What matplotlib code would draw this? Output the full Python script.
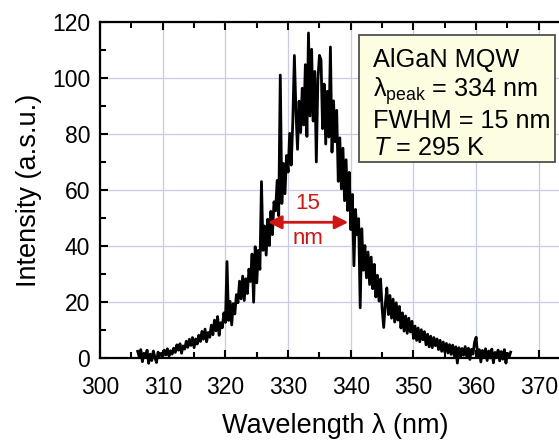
import matplotlib
matplotlib.use('Agg')
import matplotlib.pyplot as plt
import numpy as np
from matplotlib.patches import Rectangle
from matplotlib.ticker import MultipleLocator

plt.rcParams['font.family'] = ['Liberation Sans', 'DejaVu Sans']
plt.rcParams['mathtext.fontset'] = 'custom'
plt.rcParams['mathtext.rm'] = 'Liberation Sans'
plt.rcParams['mathtext.it'] = 'Liberation Sans:italic'

# spectrometer grid (nm), 0.25 nm steps
wl_start, wl_stop, wl_step = 306.0, 365.5, 0.25

# intensity, 8 samples per 2 nm
intensity = [
    2.5, 0.5, 3.1, -1.2, 1.8, 0.2, 2.9, -1.8,      # 306
    1.5, -0.8, 2.6, 0.4, -1.5, 2.2, 0.9, 1.8,      # 308
    0.6, 2.9, 1.2, 3.4, 0.8, 2.7, 1.5, 3.6,        # 310
    2.1, 4.8, 2.9, 5.2, 1.8, 4.4, 3.3, 6.1,        # 312
    3.9, 6.8, 4.6, 7.4, 3.8, 6.9, 5.1, 8.2,        # 314
    6.0, 9.6, 6.8, 10.4, 5.9, 9.2, 7.5, 11.8,      # 316
    8.4, 13.6, 9.8, 14.9, 8.2, 12.7, 10.9, 16.2,   # 318
    12.8, 34.5, 13.5, 20.3, 11.9, 19.5, 15.8, 22.7,  # 320
    19.8, 27.5, 21.2, 29.3, 20.6, 28.4, 23.1, 31.8,  # 322
    27.4, 37.2, 20.0, 39.8, 26.9, 38.5, 31.7, 63.0,  # 324
    38.5, 47.2, 36.8, 49.6, 40.2, 52.4, 44.1, 55.8,  # 326
    52.6, 63.4, 50.8, 101.0, 55.2, 69.5, 58.7, 72.3,  # 328
    66.4, 80.2, 68.9, 84.6, 108.0, 88.1, 74.5, 91.7,  # 330
    80.5, 96.3, 83.2, 104.7, 79.1, 116.0, 86.4, 110.2,  # 332
    84.6, 102.3, 70.0, 99.5, 108.0, 106.4, 81.9, 97.8,  # 334
    76.4, 95.2, 78.9, 111.0, 73.5, 91.8, 77.2, 88.4,  # 336
    63.1, 78.6, 60.4, 74.9, 56.2, 70.8, 52.7, 66.3,  # 338
    45.9, 58.4, 33.0, 53.1, 44.0, 49.8, 18.0, 46.2,  # 340
    31.4, 40.2, 28.7, 37.9, 26.3, 36.1, 24.8, 33.5,  # 342
    21.9, 29.6, 20.4, 28.3, 17.8, 11.0, 19.2, 25.1,  # 344
    15.6, 22.4, 14.3, 21.1, 12.9, 19.8, 13.6, 18.5,  # 346
    10.8, 16.2, 9.7, 15.1, 8.9, 14.3, 9.4, 13.2,     # 348
    7.1, 11.5, 6.4, 10.8, 5.9, 10.2, 6.6, 9.5,       # 350
    4.8, 8.6, 4.1, 7.9, 3.8, 7.4, 4.5, 6.9,          # 352
    3.1, 6.4, 2.5, 5.8, 2.2, 5.3, 1.9, 4.9,          # 354
    1.4, 4.7, 0.9, 4.1, -1.7, 3.8, 0.3, 3.5,         # 356
    1.1, 4.2, 0.6, 3.6, -0.4, 3.2, 1.5, 5.8,         # 358
    7.5, 0.4, 3.1, -1.3, 2.8, 0.2, 3.4, -0.8,        # 360
    2.6, 0.1, 3.3, -1.6, 2.1, 0.5, 2.9, -0.9,        # 362
    2.4, -0.3, 3.1, -1.7, 1.8, 0.4, 2.2,             # 364
]
wavelength = np.arange(wl_start, wl_stop + wl_step / 2, wl_step)

# FWHM marker
fwhm_left, fwhm_right, fwhm_level = 326.8, 339.6, 48.5
red = '#d01515'

info_lines = ['AlGaN MQW',
              r'λ$_{\mathrm{peak}}$ = 334 nm',
              'FWHM = 15 nm',
              r'$\mathit{T}$ = 295 K']

fig = plt.figure(figsize=(5.59, 4.44), dpi=100)
ax = fig.add_axes([0.179, 0.193, 0.841, 0.758])

ax.plot(wavelength, intensity, color='black', lw=2.0, clip_on=False, zorder=3)

ax.set_xlim(300, 375)
ax.set_ylim(0, 120)
ax.xaxis.set_minor_locator(MultipleLocator(5))
ax.yaxis.set_major_locator(MultipleLocator(20))
ax.yaxis.set_minor_locator(MultipleLocator(10))
ax.set_xticks(np.arange(300, 371, 10))
ax.grid(True, which='major', color='#c9c9ea', lw=0.9)
ax.set_axisbelow(True)

ax.tick_params(which='both', direction='in', top=True, right=False,
               labelsize=16.5, width=1.5)
ax.tick_params(axis='x', which='major', pad=13)
ax.tick_params(axis='y', which='major', pad=7)
ax.tick_params(which='major', length=6)
ax.tick_params(which='minor', length=4)
for s in ax.spines.values():
    s.set_linewidth(1.6)

ax.set_xlabel('Wavelength λ (nm)', fontsize=19.5, labelpad=10)
ax.set_ylabel('Intensity (a.s.u.)', fontsize=19.5, labelpad=7)

ax.annotate('', xy=(fwhm_left, fwhm_level), xytext=(fwhm_right, fwhm_level),
            arrowprops=dict(arrowstyle='<|-|>', color=red, lw=2,
                            mutation_scale=20, shrinkA=0, shrinkB=0),
            zorder=4)
ax.text((fwhm_left + fwhm_right) / 2, fwhm_level + 3, '15', color=red,
        fontsize=16, ha='center', va='bottom', zorder=4)
ax.text((fwhm_left + fwhm_right) / 2, fwhm_level - 2, 'nm', color=red,
        fontsize=16, ha='center', va='top', zorder=4)

ax.add_patch(Rectangle((0.551, 0.583), 0.417, 0.378, transform=ax.transAxes,
                       facecolor='#fdfde2', edgecolor='#505050', lw=1.3, zorder=5))
ax.text(0.581, 0.922, '\n'.join(info_lines), transform=ax.transAxes,
        fontsize=18.2, ha='left', va='top', linespacing=1.14, zorder=6)

fig.savefig('out.png', dpi=100)
